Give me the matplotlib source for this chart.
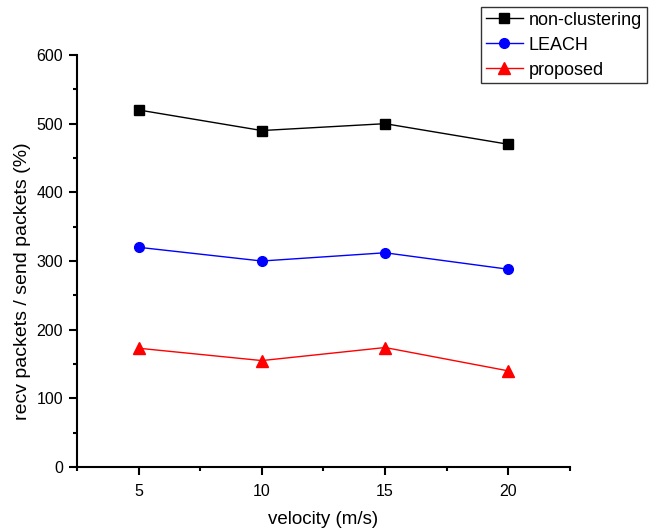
import numpy as np
import matplotlib.pyplot as plt
from matplotlib.ticker import MultipleLocator

plt.rcParams['font.family'] = ['Liberation Sans', 'DejaVu Sans']

velocity = [5, 10, 15, 20]
non_clustering = [520, 490, 500, 470]
leach = [320, 300, 312, 288]
proposed = [173, 155, 174, 140]

fig = plt.figure(figsize=(6.57, 5.31), dpi=100)
ax = fig.add_axes([0.117, 0.1205, 0.7506, 0.7759])

ax.plot(velocity, non_clustering, color='black', lw=1, marker='s', ms=6.5, label='non-clustering')
ax.plot(velocity, leach, color='blue', lw=1, marker='o', ms=7, label='LEACH')
ax.plot(velocity, proposed, color='red', lw=1, marker='^', ms=8, label='proposed')

ax.set_xlim(2.5, 22.5)
ax.set_ylim(0, 600)
ax.xaxis.set_major_locator(MultipleLocator(5))
ax.xaxis.set_minor_locator(MultipleLocator(2.5))
ax.yaxis.set_major_locator(MultipleLocator(100))
ax.yaxis.set_minor_locator(MultipleLocator(50))
ax.spines['top'].set_visible(False)
ax.spines['right'].set_visible(False)
ax.spines['left'].set_linewidth(1.5)
ax.spines['bottom'].set_linewidth(1.5)
ax.tick_params(which='major', direction='out', length=6, width=1.5, labelsize=11.5)
ax.tick_params(which='minor', direction='out', length=3, width=1.5)
ax.tick_params(axis='x', pad=6)
ax.tick_params(axis='y', pad=4)

ax.set_xlabel('velocity (m/s)', fontsize=13.5)
ax.set_ylabel('recv packets / send packets (%)', fontsize=14)
ax.xaxis.set_label_coords(0.5, -0.107)
ax.yaxis.set_label_coords(-0.093, 0.451)

leg = ax.legend(loc='upper left', fontsize=13, frameon=True, fancybox=False, edgecolor='black',
                handlelength=2.1, borderpad=0.25, labelspacing=0.45, handletextpad=0.3,
                borderaxespad=0)
leg.get_frame().set_linewidth(1)
leg.set_bbox_to_anchor((481 / 657, 1 - 7 / 531), transform=fig.transFigure)

fig.savefig('out.png', dpi=100)
